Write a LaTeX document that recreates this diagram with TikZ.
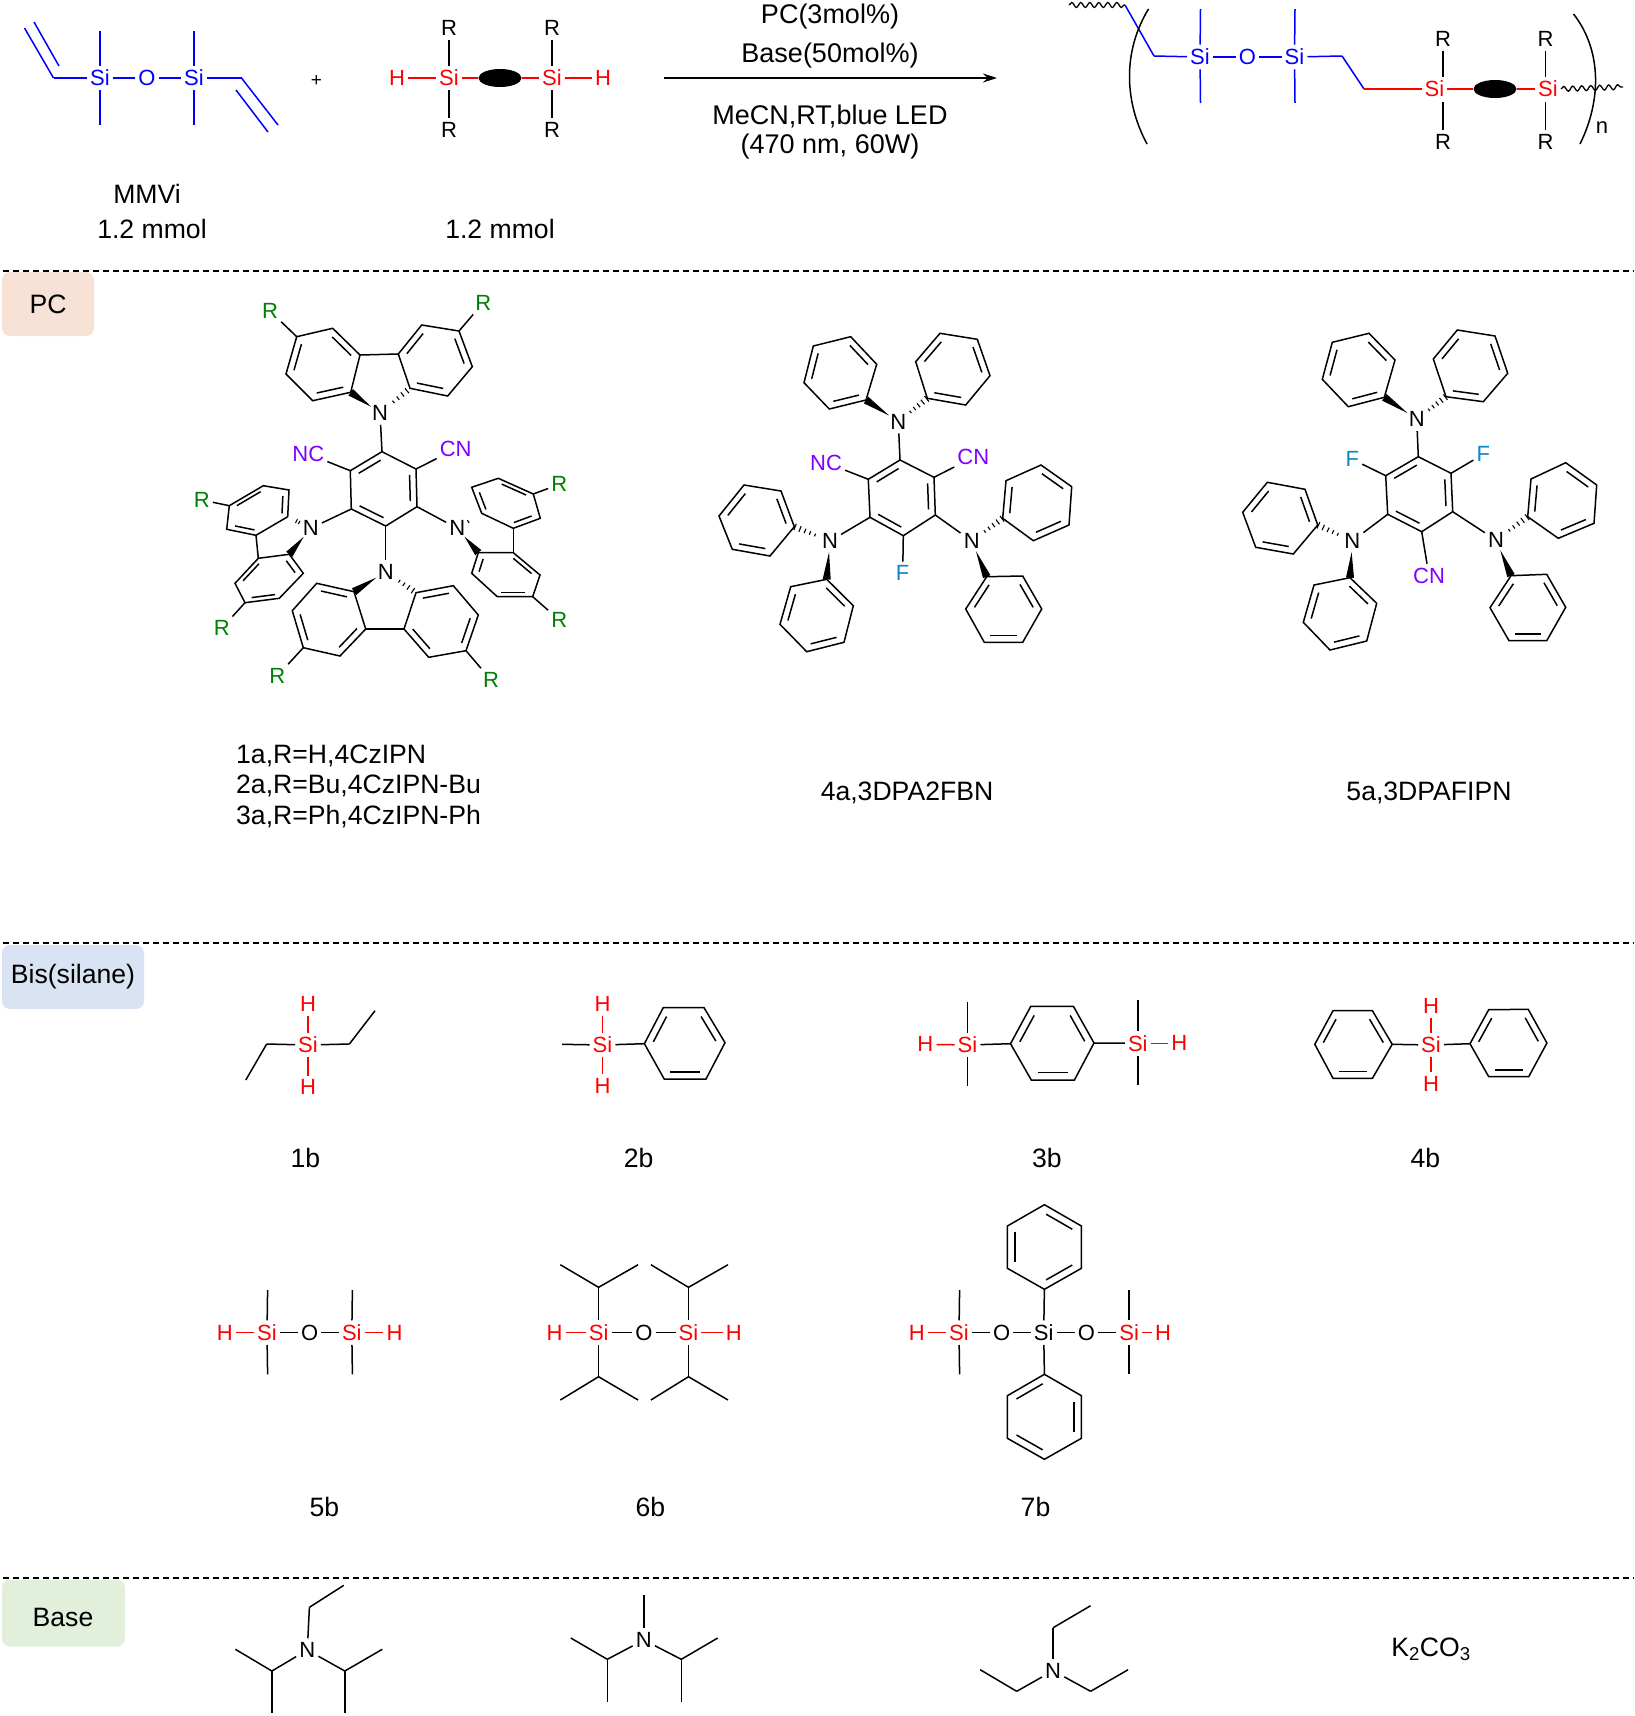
\documentclass[tikz,border=0pt]{standalone}
\usepackage{fontspec}
\setmainfont{Liberation Sans}
\usetikzlibrary{calc,arrows.meta,shapes.geometric,decorations.pathmorphing}
\definecolor{pcfill}{HTML}{F8E1D5}
\definecolor{bsfill}{HTML}{DAE3F3}
\definecolor{bafill}{HTML}{E2EFDA}
\definecolor{cyano}{HTML}{8000FF}
\definecolor{fluoro}{HTML}{0E86C8}
\definecolor{subst}{HTML}{008000}
\tikzset{
  bond/.style={black,line width=1.5pt},
  bluebond/.style={blue,line width=1.5pt},
  redbond/.style={red,line width=1.5pt},
  atom/.style={font=\fontsize{22}{26}\selectfont,inner xsep=3pt,inner ysep=4pt},
  blueatom/.style={atom,text=blue},
  redatom/.style={atom,text=red},
  cnatom/.style={atom,text=cyano},
  fatom/.style={atom,text=fluoro},
  ratom/.style={atom,text=subst},
  txt/.style={font=\fontsize{26.6}{30}\selectfont,inner sep=0pt},
  condtxt/.style={font=\fontsize{27}{31}\selectfont,inner sep=0pt},
  sepline/.style={line width=1.3pt,dash pattern=on 6pt off 4pt},
  tagbox/.style={font=\fontsize{26.6}{30}\selectfont,rounded corners=8pt,inner sep=0pt},
  blob/.style={ellipse,fill=black,inner sep=0pt,minimum width=43pt,minimum height=18pt},
  wave/.style={bond,line width=1.3pt,decorate,decoration={snake,amplitude=2.5pt,segment length=9pt}}
}
\newcommand{\pts}[1]{\foreach \n/\x/\y in {#1} {\coordinate (\n) at (\x,-\y);}}
\newcommand{\atoms}[2]{\foreach \n/\x/\y/\t in {#2} {\node [#1] (\n) at (\x,-\y) {\t};}}
\newcommand{\bonds}[2]{\foreach \a/\b in {#2} {\draw [#1] (\a) -- (\b);}}
\newcommand{\benzring}[2]{%
  \foreach \x/\y [count=\i] in {#2} {\coordinate (#1\i) at (\x,-\y);}
  \coordinate (#1c) at (barycentric cs:#11=1,#12=1,#13=1,#14=1,#15=1,#16=1);
  \draw [bond] (#11) -- (#12) -- (#13) -- (#14) -- (#15) -- (#16) -- cycle;
  \foreach \i/\j in {1/2,3/4,5/6} {
    \coordinate (pa) at ($(#1c)!.8!(#1\i)$);
    \coordinate (pb) at ($(#1c)!.8!(#1\j)$);
    \draw [bond,shorten >=2pt,shorten <=2pt] (pa) -- (pb);
  }
}
\newcommand{\wedgebond}[2]{\fill [black] ($(#1)!11pt!(#2)$) -- ($(#2)!4pt!90:(#1)$) -- ($(#2)!4pt!-90:(#1)$) -- cycle;}
\newcommand{\hashbond}[3][.42,.56,.7,.84,.98]{\foreach \h in {#1} {\draw [black,line width=1.1pt] ($(#2)!\h!(#3)!{\h*3.5pt}!90:(#3)$) -- ($(#2)!\h!(#3)!{\h*3.5pt}!-90:(#3)$);}}
\begin{document}
\begin{tikzpicture}[x=1pt,y=1pt]
\useasboundingbox (0,0) rectangle (1634,-1716);
\pts{sepA/3/271, sepB/1634/271, sepC/3/943, sepD/1634/943, sepE/3/1578, sepF/1634/1578}
\node [tagbox,fill=pcfill,minimum width=92pt,minimum height=64pt] (tagPC) at (48,-304) {PC};
\node [tagbox,fill=bsfill,minimum width=142pt,minimum height=64pt] (tagBS) at (73,-977) {Bis(silane)};
\node [tagbox,fill=bafill,minimum width=123pt,minimum height=67pt] (tagBA) at (63.5,-1613) {};
\node [txt] (lblBA) at (63,-1617) {Base};
\bonds{sepline}{sepA/sepB, sepC/sepD, sepE/sepF}

\atoms{blueatom}{siA/100/78/Si, oA/147/78/O, siB/194/78/Si}
\pts{viA/53.5/78, viB/24.5/28, viC/34/22, viD/59/66, meA/100/31, meB/100/125, meC/194/31, meD/194/125, viE/241.5/78, viF/278/125, viG/236/90, viH/268/132}
\bonds{bluebond}{viB/viA, viC/viD, viA/siA, meA/siA, meB/siA, siA/oA, oA/siB, meC/siB, meD/siB, siB/viE, viE/viF, viG/viH}
\node [font=\fontsize{19}{22}\selectfont,inner sep=0pt] (plus) at (316.5,-81) {+};
\atoms{redatom}{hA/397/78/H, siC/449/78/Si, siD/552/78/Si, hB/603/78/H}
\atoms{atom}{rA/449/28/R, rB/449/130/R, rC/552/28/R, rD/552/130/R}
\node [blob] (blobA) at (500,-78) {};
\bonds{redbond}{hA/siC, siC/blobA, blobA/siD, siD/hB}
\bonds{bond}{rA/siC, rB/siC, rC/siD, rD/siD}
\node [txt] (lblMM) at (147,-194) {MMVi};
\node [txt] (lblA) at (152,-229) {1.2 mmol};
\node [txt] (lblB) at (500,-229) {1.2 mmol};

\pts{arA/664/78, arB/997/78}
\draw [bond,-{Stealth[length=14pt,width=9pt]}] (arA) -- (arB);
\node [condtxt] (condA) at (830,-17) {PC(3mol\%)};
\node [condtxt] (condB) at (830,-56) {Base(50mol\%)};
\node [condtxt] (condC) at (830,-116) {MeCN,RT,blue LED};
\node [condtxt] (condD) at (830,-147) {(470 nm, 60W)};

\atoms{blueatom}{siE/1200/57/Si, oB/1247.5/57/O, siF/1294.5/57/Si}
\atoms{redatom}{siG/1434.5/89/Si, siH/1548/89/Si}
\atoms{atom}{rE/1443/39/R, rF/1443/142/R, rG/1545.5/39/R, rH/1545.5/142/R}
\node [blob] (blobB) at (1495,-89) {};
\pts{waA/1069/5, waB/1125/5, chA/1154/56, meE/1200.5/9, meF/1200.5/103, meG/1295/9, meH/1295/103, chB/1342/56, chC/1364/89, vtA/1443/77, vtB/1443/102, vtC/1545.5/77, vtD/1545.5/102, waC/1561/89, waD/1623/87, paA/1148.5/9, paB/1147/144, paC/1573.5/14, paD/1580/144}
\draw [wave] (waA) -- (waB);
\draw [wave] (waC) -- (waD);
\bonds{bluebond}{waB/chA, chA/siE, meE/siE, meF/siE, siE/oB, oB/siF, meG/siF, meH/siF, siF/chB, chB/chC}
\bonds{redbond}{chC/siG, siG/blobB, blobB/siH}
\bonds{bond}{rE/vtA, rF/vtB, rG/vtC, rH/vtD}
\draw [bond] (paA) .. controls (1123.4,-50) and (1123.4,-100) .. (paB);
\draw [bond] (paC) .. controls (1601.7,-50) and (1601.7,-100) .. (paD);
\node [atom] (nA) at (1602,-128) {n};

\benzring{ka}{382/451.7,350.3/470.7,351.3/509,385.7/526,417/506.7,416/469}
\benzring{kb}{360/355,332.7/328.3,296.7/336.7,286/374,312.7/400.7,350.7/392.3}
\benzring{kc}{398.3/354,421.7/325,459/331,472.3/366.7,447.7/396,410/388.3}
\benzring{kd}{229.3/505.7,263.3/485.7,289/490,287.7/516.7,256/535.3,226.7/529.3}
\benzring{ke}{258.3/558.3,235/583.3,245/602.7,279.3/598.3,303.3/573.3,289.3/554.3}
\benzring{kf}{498.3/478.3,533.3/494,540.3/518.3,513.3/528.3,481.7/513.3,471.7/487.3}
\benzring{kg}{513.3/552.7,540/575,532.7/596.7,497.3/596.7,471.7/573.3,478.3/552.7}
\benzring{kh}{354/591.7,316.7/583.3,292.3/610.7,303.3/647.7,340/656,365.7/629}
\benzring{ki}{416/592.7,453.3/585.7,478.3/615,466/650.7,428.7/657.3,404/629}
\atoms{atom}{nkA/380/413/N, nkB/310.7/528.3/N, nkC/457.3/528.3/N, nkD/385.7/571.7/N}
\atoms{cnatom}{ncA/308.3/454/NC, cnA/455.7/449/CN}
\atoms{ratom}{rkA/270/311/R, rkB/483.3/302.7/R, rkC/201.7/500/R, rkD/221.7/628.3/R, rkE/559.3/484.3/R, rkF/559.3/620/R, rkG/277.3/676/R, rkH/491/680/R}
\bonds{bond}{nkA/ka1, nkB/ka3, nkC/ka5, nkD/ka4, ka2/ncA, ka6/cnA, kb1/kc1, kd5/ke1, kf4/kg1, kh6/ki6}
\bonds{bond}{kb3/rkA, kc3/rkB, kd1/rkC, ke3/rkD, kf2/rkE, kg3/rkF, kh4/rkG, ki4/rkH}
\wedgebond{nkA}{kb6} \hashbond[.45,.6,.75,.9]{nkA}{kc6}
\wedgebond{nkB}{ke6} \hashbond[.5,.62]{nkB}{kd4}
\wedgebond{nkC}{kg6} \hashbond[.45]{nkC}{kf5}
\wedgebond{nkD}{kh1} \hashbond[.45,.6,.75,.9]{nkD}{ki1}
\node [txt,anchor=west] (lblC) at (236,-755.5) {1a,R=H,4CzIPN};
\node [txt,anchor=west] (lblD) at (236,-786) {2a,R=Bu,4CzIPN-Bu};
\node [txt,anchor=west] (lblE) at (236,-817) {3a,R=Ph,4CzIPN-Ph};

\benzring{la}{900/460,868.3/479.3,870/517.3,903.3/535.7,935.3/515,934/477.3}
\benzring{lb}{866/400,829.3/409,804/382.7,813.3/346,850.7/336.7,876.7/364.3}
\benzring{lc}{927.3/398.3,965.7/405,990/375.7,977.3/339.3,940/333.3,915.7/361.7}
\benzring{ld}{781/491,794.3/526.7,770/556,732.3/549.3,719/516,744/485}
\benzring{le}{826.7/579.3,853.3/605.7,844/642.3,806.7/651.7,780/624.3,790.7/586.7}
\benzring{lf}{1002.7/518.3,1006/480.7,1041/465,1071.7/486.7,1069/525,1033.3/540.7}
\benzring{lg}{965.7/609,986.7/576.7,1022.7/576,1041.7/609,1022.7/642.3,984.3/642.3}
\atoms{atom}{nlA/898.3/421.7/N, nlB/830/541/N, nlC/971.7/541/N}
\atoms{cnatom}{ncB/826/462.7/NC, cnB/973.3/457.3/CN}
\atoms{fatom}{fA/902.7/573.3/F}
\bonds{bond}{nlA/la1, nlB/la3, nlC/la5, la2/ncB, la6/cnB, la4/fA}
\wedgebond{nlA}{lb1} \hashbond{nlA}{lc1}
\wedgebond{nlB}{le1} \hashbond{nlB}{ld2}
\wedgebond{nlC}{lg2} \hashbond{nlC}{lf1}
\node [txt] (lblF) at (907,-793) {4a,3DPA2FBN};

\benzring{ma}{1418.3/456.7,1385.7/475.7,1387.7/514.3,1421.7/531.7,1452.7/511.7,1451/473.3}
\benzring{mb}{1384.3/397.3,1348.3/406.7,1322.3/379.3,1332.3/342.3,1369/333.3,1395/360}
\benzring{mc}{1446/396.7,1483.3/401.7,1507.7/373.3,1495/336,1457.3/330,1433.3/359}
\benzring{md}{1305/489.3,1317.7/525,1293.3/554,1255.7/547.3,1242.7/512.3,1267.3/482.3}
\benzring{me}{1350/577.7,1376.7/603.3,1366.7/641,1330/650,1303.3/622.3,1314/585}
\benzring{mf}{1527.7/516.7,1531/479,1565.7/462.7,1596.7/485,1594/523.3,1558.3/538.3}
\benzring{mg}{1490/607.7,1511/575.7,1546.7/574.3,1565.7/607.3,1546.7/640.7,1509/640.7}
\atoms{atom}{nmA/1416.7/419.3/N, nmB/1352.3/541/N, nmC/1496/540/N}
\atoms{fatom}{fB/1352.3/459.3/F, fC/1483.3/454.3/F}
\atoms{cnatom}{cnC/1429/575.7/CN}
\bonds{bond}{nmA/ma1, nmB/ma3, nmC/ma5, ma2/fB, ma6/fC, ma4/cnC}
\wedgebond{nmA}{mb1} \hashbond{nmA}{mc1}
\wedgebond{nmB}{me1} \hashbond{nmB}{md2}
\wedgebond{nmC}{mg2} \hashbond{nmC}{mf1}
\node [txt] (lblG) at (1429,-793) {5a,3DPAFIPN};

\atoms{redatom}{siI/308/1045/Si, hC/308/1004/H, hD/308/1087.3/H}
\pts{etA/266.7/1044, etB/245.8/1080, etC/349.4/1044, etD/375/1010.7}
\bonds{redbond}{hC/siI, hD/siI}
\bonds{bond}{etB/etA, etA/siI, siI/etC, etC/etD}
\node [txt] (lblH) at (305.4,-1157.7) {1b};

\atoms{redatom}{siJ/602.5/1045/Si, hE/602.5/1004/H, hF/602.5/1086/H}
\pts{meI/562.2/1044.3}
\benzring{na}{644.4/1043.7,663.2/1007.7,704/1007.7,725/1042.7,706/1079,664.2/1079}
\bonds{redbond}{hE/siJ, hF/siJ}
\bonds{bond}{meI/siJ, siJ/na1}
\node [txt] (lblI) at (638.6,-1157.7) {2b};

\atoms{redatom}{hG/925.4/1044.3/H, siK/967.5/1045/Si, siL/1137.8/1043.3/Si, hH/1179.3/1043.3/H}
\pts{meJ/967.5/1001.7, meK/967.5/1086, meL/1137.8/1000, meM/1137.8/1084.7}
\benzring{nb}{1010.5/1043.7,1030.8/1006.3,1073.4/1006.3,1094/1043,1074.4/1080,1031.3/1080}
\bonds{redbond}{hG/siK, siL/hH}
\bonds{bond}{meJ/siK, meK/siK, siK/nb1, nb4/siL, meL/siL, meM/siL}
\node [txt] (lblJ) at (1046.9,-1157.7) {3b};

\atoms{redatom}{siM/1431/1045/Si, hI/1431/1006/H, hJ/1431/1084/H}
\benzring{nc}{1392.2/1044.3,1372.4/1010.7,1333/1010.7,1314.8/1044.3,1333/1078.3,1372.4/1078.3}
\benzring{nd}{1470/1043.7,1488.7/1009.7,1528.2/1009.3,1546.9/1043,1528.7/1076.7,1488.7/1076.7}
\bonds{redbond}{hI/siM, hJ/siM}
\bonds{bond}{nc1/siM, siM/nd1}
\node [txt] (lblK) at (1425.4,-1157.7) {4b};

\atoms{redatom}{hK/224.9/1332.7/H, siN/267/1332.7/Si, siO/351.8/1332.7/Si, hL/394.5/1332.7/H}
\atoms{atom}{oC/309.7/1332.7/O}
\pts{meN/267.6/1290, meO/267.6/1374.3, meP/352.4/1290, meQ/352.4/1374.3}
\bonds{redbond}{hK/siN, siO/hL}
\bonds{bond}{siN/oC, oC/siO, meN/siN, meO/siN, meP/siO, meQ/siO}
\node [txt] (lblL) at (324.4,-1507.3) {5b};

\atoms{redatom}{hM/554.6/1332.7/H, siP/598.6/1332.7/Si, siQ/688.5/1332.7/Si, hN/733.8/1332.7/H}
\atoms{atom}{oD/643.9/1332.7/O}
\pts{ipA/598.6/1287.3, ipB/560.3/1264.7, ipC/638.1/1264.7, ipD/688.5/1287.3, ipE/650.9/1264.7, ipF/728/1264.7, ipG/598.6/1376.7, ipH/560.3/1400, ipI/638.1/1400, ipJ/688.5/1376.7, ipK/650.9/1400, ipL/728/1400}
\bonds{redbond}{hM/siP, siQ/hN}
\bonds{bond}{siP/oD, oD/siQ, ipA/siP, ipA/ipB, ipA/ipC, ipD/siQ, ipD/ipE, ipD/ipF, ipG/siP, ipG/ipH, ipG/ipI, ipJ/siQ, ipJ/ipK, ipJ/ipL}
\node [txt] (lblM) at (650.3,-1507.3) {6b};

\atoms{redatom}{hO/916.8/1332.7/H, siR/959/1332.7/Si, siS/1129.2/1332.7/Si, hP/1163/1332.7/H}
\atoms{atom}{oE/1001.7/1332.7/O, siT/1043.7/1332.7/Si, oF/1086.5/1332.7/O}
\pts{meR/959.6/1290, meS/959.6/1374.3, meT/1129.2/1290, meU/1129.2/1374.3}
\benzring{ne}{1044.4/1289.3,1081.4/1268.3,1081.4/1226,1044.4/1204.7,1007.4/1226,1007.4/1268.3}
\benzring{nf}{1044.4/1374.3,1007.4/1395.7,1007.4/1438.3,1044.4/1459.3,1081.4/1438.3,1081.4/1395.7}
\bonds{redbond}{hO/siR, siS/hP}
\bonds{bond}{siR/oE, oE/siT, siT/oF, oF/siS, meR/siR, meS/siR, meT/siS, meU/siS, siT/ne1, siT/nf1}
\node [txt] (lblN) at (1035.5,-1507.3) {7b};

\atoms{atom}{nbA/307.3/1650/N, nbB/643.8/1640/N, nbC/1053.1/1670.7/N}
\pts{baA/309.4/1607.3, baB/343.8/1585.3, baC/271.9/1671, baD/235.4/1649.3, baE/271.9/1713.3, baF/344.8/1671, baG/382.3/1649.3, baH/344.8/1713.3}
\pts{bbA/643.8/1595.3, bbB/607.3/1659.3, bbC/570.8/1638, bbD/607.3/1701.7, bbE/681.3/1659.3, bbF/717.7/1638, bbG/681.3/1701.7}
\pts{bcA/1053.1/1627.7, bcB/1090.6/1605.7, bcC/1016.7/1691.3, bcD/980.2/1669.7, bcE/1090.6/1691.3, bcF/1128.1/1669.7}
\bonds{bond}{nbA/baA, baA/baB, nbA/baC, baC/baD, baC/baE, nbA/baF, baF/baG, baF/baH}
\bonds{bond}{nbB/bbA, nbB/bbB, bbB/bbC, bbB/bbD, nbB/bbE, bbE/bbF, bbE/bbG}
\bonds{bond}{nbC/bcA, bcA/bcB, nbC/bcC, bcC/bcD, nbC/bcE, bcE/bcF}
\node [txt] (lblO) at (1431,-1649) {K\textsubscript{2}CO\textsubscript{3}};
\end{tikzpicture}
\end{document}
